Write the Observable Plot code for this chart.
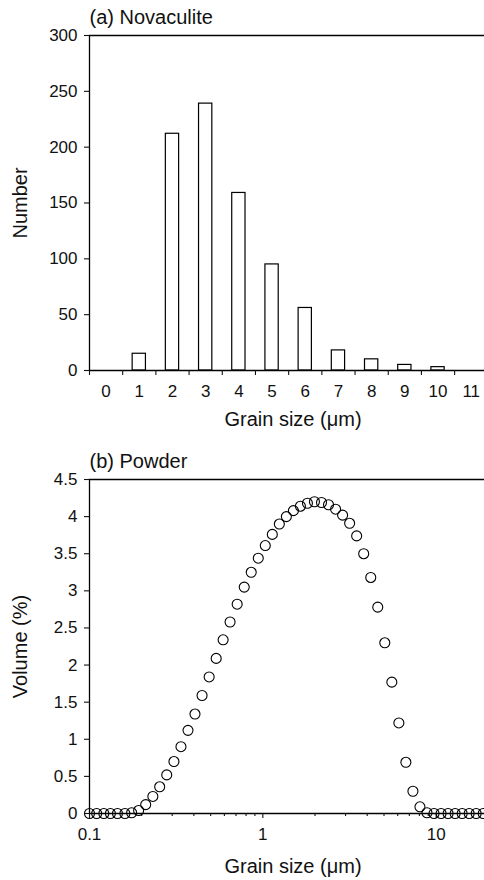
<!DOCTYPE html>
<html><head><meta charset="utf-8">
<script src="https://cdn.jsdelivr.net/npm/d3@7"></script>
<script src="https://cdn.jsdelivr.net/npm/@observablehq/plot@0.6"></script>
<style>
html,body{margin:0;padding:0;background:#fff;overflow:hidden;width:484px;}
#chart svg{display:block}
</style></head><body><div id="chart"></div>
<script>
// ---- Panel (a) data ----
const grainSizes = [0, 1, 2, 3, 4, 5, 6, 7, 8, 9, 10, 11];
const grainCounts = [0, 15, 212, 239, 159, 95, 56, 18, 10, 5, 3, 0];
const countTicks = [0, 50, 100, 150, 200, 250, 300];
const binEdges = [-0.5, 0.5, 1.5, 2.5, 3.5, 4.5, 5.5, 6.5, 7.5, 8.5, 9.5, 10.5];

// ---- Panel (b) data ----
const powderSizes = [0.100, 0.110, 0.121, 0.132, 0.145, 0.160, 0.175, 0.192, 0.211, 0.232,
  0.254, 0.279, 0.307, 0.337, 0.370, 0.406, 0.446, 0.490, 0.538, 0.590,
  0.647, 0.711, 0.781, 0.857, 0.941, 1.033, 1.134, 1.245, 1.367, 1.501,
  1.647, 1.808, 1.985, 2.180, 2.393, 2.628, 2.885, 3.167, 3.477, 3.818,
  4.193, 4.602, 5.053, 5.548, 6.091, 6.686, 7.342, 8.060, 8.849, 9.717,
  10.67, 11.71, 12.86, 14.12, 15.50, 17.01, 18.68];
const powderVolumes = [0, 0, 0, 0, 0, 0, 0.01, 0.04, 0.12, 0.23,
  0.36, 0.52, 0.70, 0.90, 1.12, 1.34, 1.59, 1.84, 2.09, 2.34,
  2.58, 2.82, 3.05, 3.25, 3.44, 3.61, 3.76, 3.90, 4.00, 4.08,
  4.14, 4.18, 4.20, 4.19, 4.16, 4.10, 4.02, 3.91, 3.74, 3.50,
  3.18, 2.78, 2.30, 1.77, 1.22, 0.69, 0.30, 0.09, 0.01, 0,
  0, 0, 0, 0, 0, 0, 0];
const volumeTicks = [0, 0.5, 1, 1.5, 2, 2.5, 3, 3.5, 4, 4.5];
const logMajorTicks = [0.1, 1, 10];
const logMinorTicks = [0.2, 0.3, 0.4, 0.5, 0.6, 0.7, 0.8, 0.9, 2, 3, 4, 5, 6, 7, 8, 9];
const sizeDomain = [0.1, 19];

const font = "'Liberation Sans', Arial, Helvetica, sans-serif";
const style = {fontFamily: font, fontSize: "17px", color: "#111", background: "#fff"};
const fmt = d3.format("~g");
const tickFont = 17;
const labelFont = 20;
const ink = "#111";

const bars = grainSizes.map((s, i) => ({size: s, count: grainCounts[i]}));
const halfBar = 0.2;

const yLabels = (ticks) => Plot.text(ticks, {y: d => d, text: fmt, frameAnchor: "left", textAnchor: "end",
  lineAnchor: "middle", dx: -12, fontSize: tickFont, fill: ink});
const xLabels = (ticks) => Plot.text(ticks, {x: d => d, text: fmt, frameAnchor: "bottom",
  lineAnchor: "top", dy: 14, fontSize: tickFont, fill: ink});

const plotA = Plot.plot({
  width: 484, height: 450,
  marginLeft: 89, marginRight: 0, marginTop: 35, marginBottom: 80,
  style,
  x: {type: "linear", domain: [binEdges[0], 11.4]},
  y: {domain: [0, countTicks[countTicks.length - 1]]},
  marks: [
    Plot.rect(bars, {x1: d => d.size - halfBar, x2: d => d.size + halfBar, y1: 0, y2: "count",
      fill: "white", stroke: "black", strokeWidth: 1.2}),
    Plot.ruleY([0], {stroke: "black", strokeWidth: 1.3}),
    Plot.ruleY([countTicks[countTicks.length - 1]], {stroke: "black", strokeWidth: 1.3}),
    Plot.ruleX([binEdges[0]], {stroke: "black", strokeWidth: 1.3}),
    Plot.axisY({ticks: countTicks, tickSize: 5, tickFormat: () => "", label: null, strokeWidth: 1.1}),
    Plot.axisX({ticks: binEdges, tickSize: 5, tickFormat: () => "", label: null, strokeWidth: 1.1}),
    yLabels(countTicks),
    xLabels(grainSizes),
    Plot.text(["(a) Novaculite"], {text: d => d, frameAnchor: "top-left", textAnchor: "start",
      lineAnchor: "bottom", dy: -12, fontSize: labelFont, fill: ink}),
    Plot.text(["Grain size (μm)"], {text: d => d, frameAnchor: "bottom", textAnchor: "middle", lineAnchor: "bottom",
      dy: 55, dx: 6, fontSize: labelFont, fill: ink}),
    Plot.text(["Number"], {text: d => d, frameAnchor: "left", textAnchor: "middle", rotate: -90, lineAnchor: "bottom",
      dx: -62.5, fontSize: labelFont, fill: ink})
  ]
});

const powder = powderSizes.map((s, i) => ({size: s, volume: powderVolumes[i]}));

const plotB = Plot.plot({
  width: 484, height: 430,
  marginLeft: 89, marginRight: 0, marginTop: 29, marginBottom: 67,
  style,
  x: {type: "log", domain: sizeDomain},
  y: {domain: [0, volumeTicks[volumeTicks.length - 1]]},
  marks: [
    Plot.ruleY([0], {stroke: "black", strokeWidth: 1.3}),
    Plot.ruleY([volumeTicks[volumeTicks.length - 1]], {stroke: "black", strokeWidth: 1.3}),
    Plot.ruleX([sizeDomain[0]], {stroke: "black", strokeWidth: 1.3}),
    Plot.axisY({ticks: volumeTicks, tickSize: 5, tickFormat: () => "", label: null, strokeWidth: 1.1}),
    Plot.axisX({ticks: logMajorTicks, tickSize: 5, tickFormat: () => "", label: null, strokeWidth: 1.1}),
    Plot.axisX({ticks: logMinorTicks, tickSize: 3, tickFormat: () => "", label: null, strokeWidth: 1.1}),
    yLabels(volumeTicks),
    xLabels(logMajorTicks),
    Plot.dot(powder, {x: "size", y: "volume", r: 5, stroke: "black", fill: "none", strokeWidth: 1.1}),
    Plot.text(["(b) Powder"], {text: d => d, frameAnchor: "top-left", textAnchor: "start",
      lineAnchor: "bottom", dy: -11.5, fontSize: labelFont, fill: ink}),
    Plot.text(["Grain size (μm)"], {text: d => d, frameAnchor: "bottom", textAnchor: "middle", lineAnchor: "bottom",
      dy: 59, dx: 6, fontSize: labelFont, fill: ink}),
    Plot.text(["Volume (%)"], {text: d => d, frameAnchor: "left", textAnchor: "middle", rotate: -90, lineAnchor: "bottom",
      dx: -62.5, fontSize: labelFont, fill: ink})
  ]
});

const chart = document.getElementById("chart");
chart.appendChild(plotA);
chart.appendChild(plotB);
</script>
</body></html>
